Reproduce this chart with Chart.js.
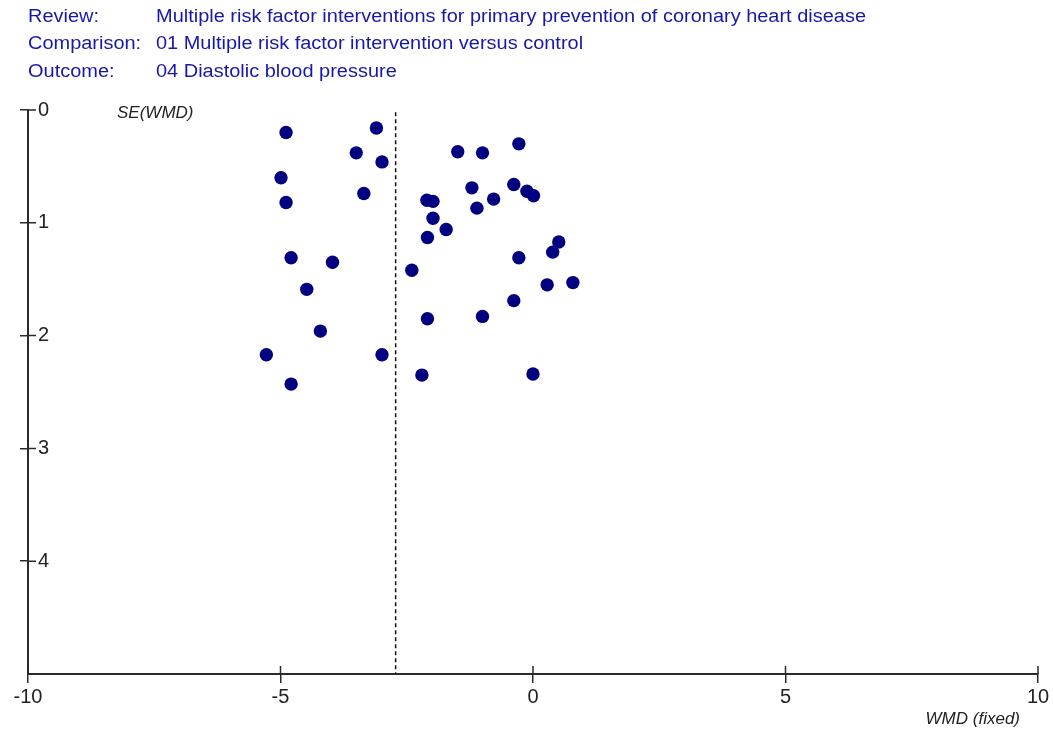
<!DOCTYPE html>
<html>
<head>
<meta charset="utf-8">
<title>Funnel plot - Diastolic blood pressure</title>
<script src="https://cdn.jsdelivr.net/npm/chart.js@4.4.0/dist/chart.umd.min.js"></script>
<style>
    html, body { margin: 0; padding: 0; background: #fff; }
</style>
</head>
<body>
<canvas id="funnel" width="1053" height="735"></canvas>
<script>
// one entry per trial: weighted mean difference and its standard error
var wmd = [
    -4.89, -3.10, -3.50, -2.99, -4.99, -4.89, -3.35, -4.79, -3.97, -4.48,
    -4.21, -5.28, -2.99, -4.79, -1.49, -1.00, -0.28, -1.21, -0.38, -0.12,
    0.01, -2.10, -1.98, -1.11, -0.78, -1.98, -1.72, -2.09, 0.51, 0.39,
    -0.28, -2.40, 0.79, 0.28, -0.38, -2.09, -1.00, -2.20, 0.00
];
var seWmd = [
    0.20, 0.16, 0.38, 0.46, 0.60, 0.82, 0.74, 1.31, 1.35, 1.59,
    1.96, 2.17, 2.17, 2.43, 0.37, 0.38, 0.30, 0.69, 0.66, 0.72,
    0.76, 0.80, 0.81, 0.87, 0.79, 0.96, 1.06, 1.13, 1.17, 1.26,
    1.31, 1.42, 1.53, 1.55, 1.69, 1.85, 1.83, 2.35, 2.34
];
var pooledWmd = -2.72;

var headerKeys = ['Review:', 'Comparison:', 'Outcome:'];
var headerText = [
    'Multiple risk factor interventions for primary prevention of coronary heart disease',
    '01 Multiple risk factor intervention versus control',
    '04 Diastolic blood pressure'
];

var axisColor = '#2a2a2a';
var dotColor = '#000080';
var textFont = '"Liberation Sans", Arial, sans-serif';

var points = wmd.map(function (v, i) {
    return { x: v, y: seWmd[i] };
});

// header lines, axis titles and the inner half of the tick marks
var funnelDecor = {
    id: 'funnelDecor',
    afterDraw: function (chart) {
        var ctx = chart.ctx;
        var sx = chart.scales.x;
        var sy = chart.scales.y;
        ctx.save();

        ctx.strokeStyle = axisColor;
        ctx.lineWidth = 1.5;
        ctx.beginPath();
        sy.ticks.forEach(function (t) {
            if (t.value >= 5) return;
            var py = sy.getPixelForValue(t.value);
            ctx.moveTo(sx.left, py);
            ctx.lineTo(sx.left + 8, py);
        });
        sx.ticks.forEach(function (t) {
            var px = sx.getPixelForValue(t.value);
            ctx.moveTo(px, sy.bottom);
            ctx.lineTo(px, sy.bottom - 8);
        });
        ctx.stroke();

        ctx.fillStyle = '#222';
        ctx.font = 'italic 17px ' + textFont;
        ctx.textBaseline = 'middle';
        ctx.textAlign = 'left';
        ctx.fillText('SE(WMD)', 117, 113);
        ctx.textAlign = 'right';
        ctx.fillText('WMD (fixed)', 1020, 719);

        // header text is a narrow face, squeeze it to the same width
        ctx.font = '18px ' + textFont;
        ctx.fillStyle = '#1818a8';
        ctx.textAlign = 'left';
        var squeeze = 710 / ctx.measureText(headerText[0]).width;
        ctx.scale(squeeze, 1);
        var rows = [17, 44, 72];
        headerKeys.forEach(function (k, i) {
            ctx.fillText(k, 28 / squeeze, rows[i]);
            ctx.fillText(headerText[i], 156 / squeeze, rows[i]);
        });

        ctx.restore();
    }
};

var ctx = document.getElementById('funnel').getContext('2d');
var funnelChart = new Chart(ctx, {
    type: 'scatter',
    data: {
        datasets: [{
                label: 'Trials',
                data: points,
                pointStyle: 'circle',
                pointRadius: 6.7,
                pointHoverRadius: 6.7,
                pointBorderWidth: 0,
                backgroundColor: dotColor,
                borderColor: dotColor
            }, {
                type: 'line',
                label: 'Pooled WMD',
                data: [{ x: pooledWmd, y: 0.02 }, { x: pooledWmd, y: 5 }],
                borderColor: '#111',
                borderWidth: 1.5,
                borderDash: [4, 3],
                pointRadius: 0,
                fill: false
            }]
    },
    options: {
        responsive: false,
        animation: false,
        events: [],
        layout: {
            padding: { top: 110, right: 15, bottom: 0, left: 0 }
        },
        plugins: {
            legend: { display: false },
            tooltip: { enabled: false }
        },
        scales: {
            x: {
                type: 'linear',
                position: 'bottom',
                min: -10,
                max: 10,
                afterFit: function (scale) {
                    scale.height = 61;
                },
                border: { display: true, color: axisColor, width: 2 },
                grid: {
                    drawOnChartArea: false,
                    drawTicks: true,
                    tickLength: 9,
                    color: axisColor,
                    lineWidth: 1.5
                },
                ticks: {
                    stepSize: 5,
                    padding: 2,
                    color: '#222',
                    font: { family: textFont, size: 20 }
                }
            },
            y: {
                type: 'linear',
                position: 'left',
                reverse: true,
                min: 0,
                max: 5,
                afterFit: function (scale) {
                    scale.width = 28;
                },
                border: { display: true, color: axisColor, width: 2 },
                grid: {
                    drawOnChartArea: false,
                    drawTicks: true,
                    tickLength: 8,
                    lineWidth: 1.5,
                    color: function (c) {
                        return c.tick && c.tick.value === 5 ? 'rgba(0,0,0,0)' : axisColor;
                    }
                },
                ticks: {
                    stepSize: 1,
                    mirror: true,
                    padding: 10,
                    color: '#222',
                    font: { family: textFont, size: 20 },
                    callback: function (v) {
                        return v === 5 ? '' : v;
                    }
                }
            }
        }
    },
    plugins: [funnelDecor]
});
</script>
</body>
</html>
